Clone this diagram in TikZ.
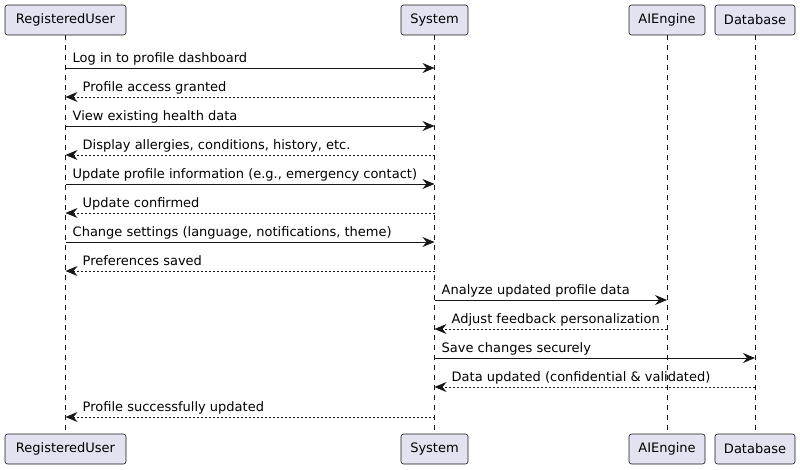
\documentclass[tikz,border=0pt]{standalone}
\usepackage{fontspec}
\setmainfont{DejaVu Sans}
\usetikzlibrary{arrows.meta}
\definecolor{partfill}{HTML}{E2E2F0}
\definecolor{lineclr}{HTML}{181818}
\tikzset{
  partbox/.style={draw=lineclr, fill=partfill, rounded corners=2.5pt, line width=0.6pt,
    minimum height=30pt, inner sep=0pt, font=\fontsize{13}{15}\selectfont},
  lifeline/.style={draw=lineclr, line width=0.5pt, dash pattern=on 5pt off 5pt},
  callmsg/.style={draw=lineclr, line width=0.9pt, -{Stealth[length=12pt,width=10pt,inset=4pt]}},
  retmsg/.style={draw=lineclr, line width=0.8pt, dash pattern=on 2pt off 2pt, -{Stealth[length=12pt,width=10pt,inset=4pt]}},
  msglabel/.style={anchor=base west, inner sep=0pt, font=\fontsize{13}{15}\selectfont}
}
\begin{document}
\begin{tikzpicture}[x=1pt,y=-1pt]
\path[use as bounding box] (0,0) rectangle (800,469);
% participants top
\node[partbox, minimum width=121pt] (ru) at (65.5,20) {RegisteredUser};
\node[partbox, minimum width=67pt] (sy) at (434.5,20) {System};
\node[partbox, minimum width=76pt] (ai) at (667,20) {AIEngine};
\node[partbox, minimum width=80pt] (db) at (755,20) {Database};
% participants bottom
\node[partbox, minimum width=121pt] (rub) at (65.5,449) {RegisteredUser};
\node[partbox, minimum width=67pt] (syb) at (434.5,449) {System};
\node[partbox, minimum width=76pt] (aib) at (667,449) {AIEngine};
\node[partbox, minimum width=80pt] (dbb) at (755,449) {Database};
% lifelines
\draw[lifeline] (ru.south) -- (rub.north);
\draw[lifeline] (sy.south) -- (syb.north);
\draw[lifeline] (ai.south) -- (aib.north);
\draw[lifeline] (db.south) -- (dbb.north);
% messages
\newcommand{\callm}[4]{%
  \draw[callmsg] (#1 |- 0,#3) -- (#2 |- 0,#3);
  \node[msglabel] at ([xshift=7pt]#1 |- 0,{#3-5.5}) {#4};}
\newcommand{\retm}[4]{%
  \draw[retmsg] (#1 |- 0,#3) -- (#2 |- 0,#3);
  \node[msglabel] at ([xshift=17pt]#2 |- 0,{#3-5.5}) {#4};}
\callm{ru}{sy}{68}{Log in to profile dashboard}
\retm{sy}{ru}{97}{Profile access granted}
\callm{ru}{sy}{126}{View existing health data}
\retm{sy}{ru}{155}{Display allergies, conditions, history, etc.}
\callm{ru}{sy}{184}{Update profile information (e.g., emergency contact)}
\retm{sy}{ru}{213}{Update confirmed}
\callm{ru}{sy}{242}{Change settings (language, notifications, theme)}
\retm{sy}{ru}{271}{Preferences saved}
\callm{sy}{ai}{300}{Analyze updated profile data}
\retm{ai}{sy}{329}{Adjust feedback personalization}
\callm{sy}{db}{358}{Save changes securely}
\retm{db}{sy}{387}{Data updated (confidential \& validated)}
\retm{sy}{ru}{417}{Profile successfully updated}
\end{tikzpicture}
\end{document}
